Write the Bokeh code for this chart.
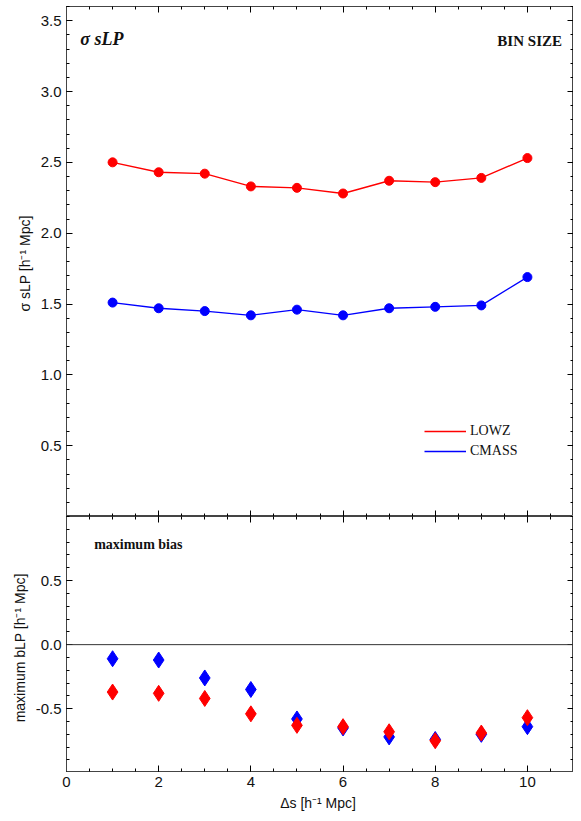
from bokeh.plotting import figure
from bokeh.layouts import column
from bokeh.models import LinearAxis, Range1d, Label, Span, Legend, LegendItem, FixedTicker, NumeralTickFormatter
from bokeh.embed import file_html
from bokeh.resources import INLINE

ds = [1, 2, 3, 4, 5, 6, 7, 8, 9, 10]
sigma_lowz = [2.50, 2.43, 2.42, 2.33, 2.32, 2.28, 2.37, 2.36, 2.39, 2.53]
sigma_cmass = [1.51, 1.47, 1.45, 1.42, 1.46, 1.42, 1.47, 1.48, 1.49, 1.69]
bias_lowz = [-0.37, -0.38, -0.42, -0.54, -0.63, -0.64, -0.68, -0.75, -0.69, -0.57]
bias_cmass = [-0.11, -0.12, -0.26, -0.35, -0.58, -0.65, -0.72, -0.74, -0.70, -0.64]
top_ticks = [0.5, 1.0, 1.5, 2.0, 2.5, 3.0, 3.5]
bot_ticks = [-0.5, 0.0, 0.5]
x_ticks = [0, 2, 4, 6, 8, 10]

SANS = "Liberation Sans"
SERIF = "Liberation Serif"
YMINOR = [v / 10 for v in range(-10, 40)]
XMINOR = [v * 0.5 for v in range(0, 23)]

def blank(ticks):
    return {t: "" for t in ticks}

def style(p, yticks, show_x):
    p.outline_line_color = "#444"
    p.outline_line_width = 1
    for ax in p.yaxis + p.xaxis:
        ax.major_tick_in = 6; ax.major_tick_out = 0
        ax.minor_tick_in = 3; ax.minor_tick_out = 0
        ax.axis_line_color = "#444"
        ax.major_label_text_font = SANS
        ax.major_label_text_font_size = "15px"
        ax.major_label_text_color = "#111"
        ax.axis_label_text_font = SANS
        ax.axis_label_text_font_size = "14px"
        ax.axis_label_text_font_style = "normal"
        ax.axis_label_text_color = "#111"
    p.yaxis.ticker = FixedTicker(ticks=yticks, minor_ticks=YMINOR)
    p.yaxis.formatter = NumeralTickFormatter(format="0.0")
    p.xaxis.ticker = FixedTicker(ticks=x_ticks, minor_ticks=XMINOR)
    if not show_x:
        p.xaxis.major_label_overrides = blank(x_ticks)
    r = LinearAxis(ticker=FixedTicker(ticks=yticks, minor_ticks=YMINOR),
                   major_label_overrides=blank(yticks), major_tick_in=6, major_tick_out=0,
                   minor_tick_in=3, minor_tick_out=0, axis_line_color="#444")
    p.add_layout(r, "right")
    t = LinearAxis(ticker=FixedTicker(ticks=x_ticks, minor_ticks=XMINOR),
                   major_label_overrides=blank(x_ticks), major_tick_in=6, major_tick_out=0,
                   minor_tick_in=3, minor_tick_out=0, axis_line_color="#444")
    p.add_layout(t, "above")
    p.xgrid.visible = False
    p.ygrid.visible = False

p1 = figure(width=573, height=516, x_range=Range1d(0, 11), y_range=Range1d(0.0, 3.6),
            output_backend="svg", toolbar_location=None,
            min_border_left=66, min_border_right=0, min_border_top=6, min_border_bottom=0)
l1 = p1.line(ds, sigma_lowz, line_color="red", line_width=1.3)
p1.scatter(ds, sigma_lowz, size=9, color="red")
l2 = p1.line(ds, sigma_cmass, line_color="blue", line_width=1.3)
p1.scatter(ds, sigma_cmass, size=9, color="blue")
p1.yaxis.axis_label = "σ sLP  [h⁻¹ Mpc]"
style(p1, top_ticks, False)
leg = Legend(items=[LegendItem(label="LOWZ", renderers=[l1]), LegendItem(label="CMASS", renderers=[l2])],
             location=(358, 55), background_fill_alpha=0, border_line_alpha=0,
             label_text_font=SERIF, label_text_font_size="14px", label_text_color="#111",
             glyph_width=42, spacing=-4, padding=0, label_standoff=4)
p1.add_layout(leg, "center")
p1.add_layout(Label(x=0.3, y=3.3, text="σ sLP", text_font=SERIF, text_font_style="bold italic",
                    text_font_size="18px", text_color="#111"))
p1.add_layout(Label(x=10.75, y=3.3, text="BIN SIZE", text_font=SERIF, text_font_style="bold",
                    text_font_size="15px", text_align="right", text_color="#111"))

p2 = figure(width=573, height=297, x_range=Range1d(0, 11), y_range=Range1d(-0.99, 1.0),
            output_backend="svg", toolbar_location=None,
            min_border_left=66, min_border_right=0, min_border_top=0, min_border_bottom=0)
p2.add_layout(Span(location=0, dimension="width", line_color="#333", line_width=1))
p2.scatter(ds, bias_cmass, marker="diamond", size=16, color="blue")
p2.scatter(ds, bias_lowz, marker="diamond", size=16, color="red")
p2.yaxis.axis_label = "maximum  bLP  [h⁻¹ Mpc]"
p2.xaxis.axis_label = "Δs  [h⁻¹ Mpc]"
style(p2, bot_ticks, True)
p2.add_layout(Label(x=0.6, y=0.72, text="maximum bias", text_font=SERIF, text_font_style="bold",
                    text_font_size="14px", text_color="#111"))

lay = column(p1, p2, spacing=0)
open("out.html", "w").write(file_html(lay, INLINE))
